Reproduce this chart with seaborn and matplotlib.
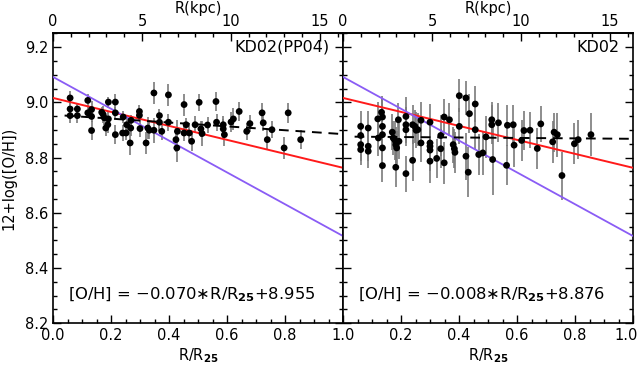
import numpy as np
import pandas as pd
import matplotlib
matplotlib.use("Agg")
import matplotlib.pyplot as plt
import matplotlib.transforms as mtrans
import seaborn as sns
from matplotlib.ticker import MultipleLocator, FixedLocator

# ---------------- data ----------------
# Left panel: KD02(PP04)
left_r = [0.059, 0.059, 0.059, 0.084, 0.084, 0.120, 0.120, 0.133, 0.133, 0.133,
          0.168, 0.173, 0.177, 0.182, 0.189, 0.191, 0.191, 0.215, 0.215, 0.215,
          0.242, 0.240, 0.252, 0.254, 0.269, 0.268, 0.266, 0.298, 0.298, 0.300,
          0.321, 0.327, 0.332, 0.348, 0.348, 0.367, 0.367, 0.375, 0.398, 0.398,
          0.424, 0.427, 0.429, 0.452, 0.452, 0.459, 0.470, 0.478, 0.490, 0.504,
          0.510, 0.514, 0.533, 0.562, 0.564, 0.587, 0.587, 0.591, 0.614, 0.622,
          0.642, 0.668, 0.679, 0.721, 0.725, 0.739, 0.755, 0.797, 0.811, 0.854]
left_oh = [9.016, 8.976, 8.952, 8.976, 8.952, 9.007, 8.962, 8.974, 8.949, 8.898,
           8.964, 8.956, 8.944, 8.907, 8.919, 9.001, 8.940, 9.001, 8.962, 8.883,
           8.947, 8.889, 8.889, 8.919, 8.935, 8.907, 8.853, 8.967, 8.953, 8.905,
           8.853, 8.907, 8.899, 9.034, 8.899, 8.952, 8.928, 8.895, 9.027, 8.928,
           8.865, 8.835, 8.895, 8.992, 8.889, 8.919, 8.889, 8.859, 8.919, 9.000,
           8.904, 8.887, 8.918, 9.003, 8.928, 8.919, 8.904, 8.883, 8.929, 8.940,
           8.967, 8.895, 8.923, 8.962, 8.926, 8.865, 8.901, 8.835, 8.962, 8.865]
left_err = [0.025, 0.020, 0.025, 0.020, 0.025, 0.025, 0.020, 0.030, 0.020, 0.035,
            0.020, 0.030, 0.025, 0.030, 0.030, 0.020, 0.025, 0.030, 0.020, 0.035,
            0.020, 0.030, 0.025, 0.030, 0.020, 0.030, 0.045, 0.025, 0.020, 0.030,
            0.040, 0.040, 0.030, 0.040, 0.045, 0.025, 0.030, 0.030, 0.040, 0.030,
            0.045, 0.050, 0.040, 0.040, 0.030, 0.025, 0.030, 0.035, 0.030, 0.030,
            0.030, 0.045, 0.030, 0.035, 0.030, 0.030, 0.035, 0.040, 0.035, 0.040,
            0.035, 0.030, 0.030, 0.035, 0.030, 0.035, 0.030, 0.040, 0.035, 0.035]

# Right panel: KD02
right_r = [0.061, 0.061, 0.061, 0.061, 0.087, 0.087, 0.087, 0.120, 0.122, 0.133,
           0.136, 0.136, 0.136, 0.136, 0.136, 0.170, 0.173, 0.179, 0.182, 0.185,
           0.193, 0.182, 0.191, 0.217, 0.217, 0.217, 0.217, 0.240, 0.240, 0.248,
           0.252, 0.258, 0.269, 0.269, 0.300, 0.300, 0.300, 0.300, 0.300, 0.323,
           0.337, 0.337, 0.349, 0.349, 0.367, 0.380, 0.384, 0.386, 0.401, 0.401,
           0.424, 0.424, 0.432, 0.436, 0.456, 0.456, 0.468, 0.482, 0.493, 0.513,
           0.513, 0.516, 0.536, 0.567, 0.564, 0.587, 0.590, 0.616, 0.624, 0.645,
           0.670, 0.682, 0.723, 0.728, 0.739, 0.755, 0.798, 0.811, 0.855]
right_oh = [8.913, 8.880, 8.847, 8.829, 8.907, 8.841, 8.823, 8.940, 8.871, 8.964,
            8.947, 8.913, 8.883, 8.835, 8.771, 8.892, 8.871, 8.863, 8.847, 8.835,
            8.859, 8.765, 8.937, 8.949, 8.919, 8.901, 8.742, 8.919, 8.790, 8.913,
            8.899, 8.901, 8.935, 8.853, 8.928, 8.853, 8.841, 8.827, 8.787, 8.797,
            8.880, 8.832, 8.947, 8.781, 8.937, 8.847, 8.832, 8.819, 9.024, 8.913,
            9.016, 8.805, 8.747, 8.959, 8.994, 8.901, 8.811, 8.817, 8.875, 8.937,
            8.919, 8.793, 8.926, 8.917, 8.772, 8.919, 8.845, 8.862, 8.898, 8.899,
            8.833, 8.922, 8.857, 8.892, 8.883, 8.735, 8.850, 8.865, 8.883]
right_err = [0.055, 0.050, 0.060, 0.055, 0.060, 0.055, 0.060, 0.060, 0.065, 0.060,
             0.065, 0.070, 0.060, 0.065, 0.060, 0.065, 0.060, 0.070, 0.065, 0.060,
             0.065, 0.070, 0.060, 0.070, 0.065, 0.060, 0.065, 0.070, 0.075, 0.060,
             0.065, 0.060, 0.065, 0.070, 0.065, 0.070, 0.060, 0.075, 0.080, 0.070,
             0.075, 0.070, 0.065, 0.075, 0.060, 0.065, 0.070, 0.075, 0.060, 0.065,
             0.060, 0.085, 0.090, 0.070, 0.065, 0.070, 0.075, 0.080, 0.075, 0.066,
             0.070, 0.130, 0.070, 0.075, 0.072, 0.070, 0.080, 0.075, 0.070, 0.065,
             0.075, 0.066, 0.075, 0.070, 0.080, 0.087, 0.075, 0.070, 0.078]

panel_labels = ["KD02(PP04)", "KD02"]
fit_slope = [-0.070, -0.008]
fit_icpt = [8.955, 8.876]
fit_text = [r"[O/H] = $-$0.070$\ast$R/R$_{\mathbf{25}}$+8.955",
            r"[O/H] = $-$0.008$\ast$R/R$_{\mathbf{25}}$+8.876"]
# reference gradients (same in both panels), values at R/R25 = 0 and 1
red_line = [9.016, 8.763]
purple_line = [9.092, 8.516]
R25_kpc = 16.3
x_ticks = [0.0, 0.2, 0.4, 0.6, 0.8, 1.0]
x_labels_left = ["0.0", "0.2", "0.4", "0.6", "0.8", "1.0"]
x_labels_right = ["", "0.2", "0.4", "0.6", "0.8", "1.0"]
y_ticks = [8.2, 8.4, 8.6, 8.8, 9.0, 9.2]
y_labels = ["8.2", "8.4", "8.6", "8.8", "9.0", "9.2"]
kpc_ticks = [0, 5, 10, 15]

# ---------------- figure ----------------
sns.set_style("white")
plt.rcParams["font.family"] = ["DejaVu Sans"]
plt.rcParams["mathtext.fontset"] = "dejavusans"
plt.rcParams["text.color"] = "black"
plt.rcParams["axes.labelcolor"] = "black"
plt.rcParams["xtick.color"] = "black"
plt.rcParams["ytick.color"] = "black"

fig = plt.figure(figsize=(6.4, 3.68), dpi=100)
W, H = 640, 368
bot = 1 - 323.3 / H
hgt = (323.3 - 33.3) / H
axL = fig.add_axes([53 / W, bot, 290 / W, hgt])
axR = fig.add_axes([343 / W, bot, 290 / W, hgt], sharey=axL)

TS = 10.5
panels = [(axL, left_r, left_oh, left_err), (axR, right_r, right_oh, right_err)]
for i, (ax, r, oh, err) in enumerate(panels):
    df = pd.DataFrame({"r": r, "oh": oh, "err": err})
    ax.errorbar(df["r"], df["oh"], yerr=df["err"], fmt="none",
                ecolor="#7a7a7a", elinewidth=1.2, capsize=0, zorder=2)
    xs = np.array([0.0, 1.0])
    ax.plot(xs, red_line, color="#ff1a1a", lw=1.4, zorder=3)
    ax.plot(xs, purple_line, color="#8a5cf5", lw=1.3, zorder=3)
    xd = np.array([0.04, 1.0])
    ax.plot(xd, fit_icpt[i] + fit_slope[i] * xd, color="black", lw=1.4,
            dashes=(5, 3.5), zorder=4)
    sns.scatterplot(data=df, x="r", y="oh", ax=ax, color="black", s=24,
                    edgecolor="none", zorder=5, legend=False)

    ax.set_xlim(0, 1.0)
    ax.set_ylim(8.2, 9.25)
    ax.xaxis.set_minor_locator(MultipleLocator(0.05))
    ax.yaxis.set_major_locator(FixedLocator(y_ticks))
    ax.yaxis.set_minor_locator(MultipleLocator(0.05))
    ax.tick_params(which="both", direction="in", left=True, right=True,
                   bottom=True, top=False, labelsize=TS, width=1.0, colors="black")
    ax.tick_params(which="major", length=6)
    ax.tick_params(which="minor", length=3)
    for s in ax.spines.values():
        s.set_linewidth(1.2)
        s.set_color("black")
    ax.set_xlabel(r"R/R$_{\mathbf{25}}$", fontsize=TS, labelpad=2)
    ax.set_ylabel("")

    ax.text(0.955, 9.2, panel_labels[i], ha="right", va="center", fontsize=11.5)
    ax.text(0.05, 8.305, fit_text[i], ha="left", va="center", fontsize=11.8)

    sec = ax.secondary_xaxis("top", functions=(lambda x: x * R25_kpc,
                                                lambda k: k / R25_kpc))
    sec.xaxis.set_major_locator(FixedLocator(kpc_ticks))
    sec.xaxis.set_minor_locator(MultipleLocator(1))
    sec.tick_params(which="both", direction="in", labelsize=TS, width=1.0, pad=3,
                    colors="black")
    sec.tick_params(which="major", length=6)
    sec.tick_params(which="minor", length=3)
    sec.set_xlabel("R(kpc)", fontsize=TS, labelpad=1)
    sec.spines["top"].set_linewidth(1.2)
    sec.spines["top"].set_color("black")

axL.set_xticks(x_ticks)
axL.set_xticklabels(x_labels_left)
axR.set_xticks(x_ticks)
axR.set_xticklabels(x_labels_right)
axL.set_yticks(y_ticks)
axL.set_yticklabels(y_labels)
axR.tick_params(labelleft=False)
axL.set_ylabel("12+log([O/H])", fontsize=TS, labelpad=6)

# nudge the last right-panel tick label inside the canvas
last = axR.get_xticklabels()[-1]
last.set_transform(last.get_transform() +
                   mtrans.ScaledTranslation(-5 / 72, 0, fig.dpi_scale_trans))

fig.savefig("out.png", dpi=100)
